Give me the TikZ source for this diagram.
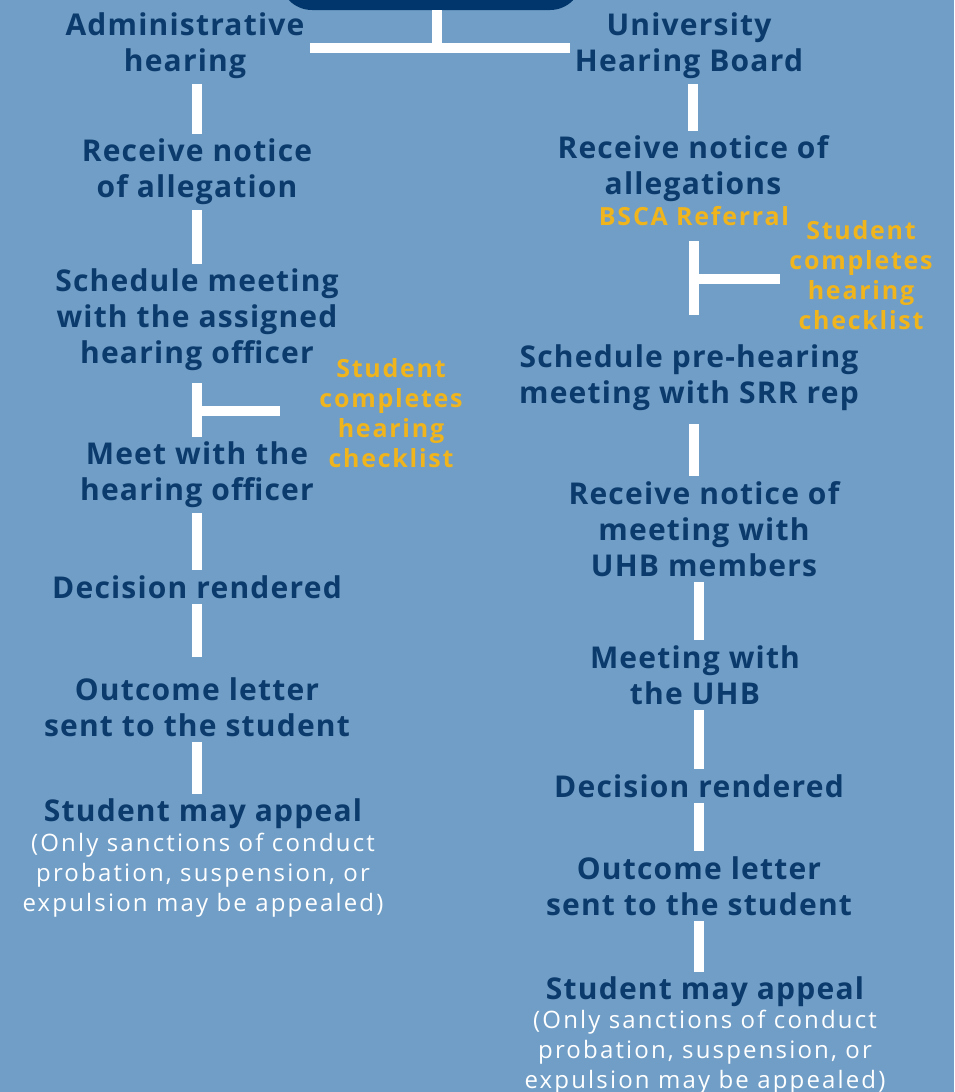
\documentclass[tikz,border=0pt]{standalone}
\usepackage{fontspec}
\setmainfont{Lato}
\newfontfamily\wideface[LetterSpace=4]{Open Sans}
\newfontfamily\noteface[LetterSpace=7]{Open Sans}
\newfontfamily\fineface[LetterSpace=9]{Open Sans}
\definecolor{bgblue}{HTML}{709EC6}
\definecolor{navy}{HTML}{0B3A6C}
\definecolor{topnavy}{HTML}{00366B}
\definecolor{gold}{HTML}{F0B41C}
\begin{document}
\begin{tikzpicture}[x=1pt, y=-1pt,
    stage/.style={text=navy, font=\wideface\bfseries\fontsize{30}{36}\selectfont, align=center, inner sep=5pt},
    note/.style={text=gold, font=\noteface\bfseries\fontsize{25}{30}\selectfont, align=center, inner sep=4pt},
    fine/.style={text=white, font=\fineface\fontsize{24}{30}\selectfont, align=center, inner sep=0pt},
    conn/.style={white, line width=10pt}]
    \clip (0, 0) rectangle (954, 1092);
    \fill[bgblue] (0, 0) rectangle (954, 1092);
    \node[fill=topnavy, rounded corners=32pt, minimum width=302pt, minimum height=70pt] (top) at (431, -25) {};
    \coordinate (tj) at (437, 48);

    \node[stage] (adm) at (185, 46) {Administrative\\hearing};
    \node[stage] (rcvL) at (197, 172) {Receive notice\\of allegation};
    \node[stage] (schL) at (197, 320) {Schedule meeting\\with the assigned\\hearing officer};
    \node[stage] (meetL) at (197, 475) {Meet with the\\hearing officer};
    \node[stage] (decL) at (197, 587) {Decision rendered};
    \node[stage] (outL) at (197, 707) {Outcome letter\\sent to the student};
    \node[stage] (appL) at (203, 814) {Student may appeal};
    \node[fine] (appLn) at (203, 875) {(Only sanctions of conduct\\probation, suspension, or\\expulsion may be appealed)};
    \node[note] (chkL) at (391, 413) {Student\\completes\\hearing\\checklist};

    \node[stage] (uhb) at (689, 46) {University\\Hearing Board};
    \node[stage] (rcvR) at (693, 169) {Receive notice of\\allegations};
    \node[note] (bsca) at (694, 216) {BSCA Referral};
    \node[note] (chkR) at (861, 275) {Student\\completes\\hearing\\checklist};
    \node[stage] (schR) at (689, 378) {Schedule pre-hearing\\meeting with SRR rep};
    \node[stage] (mtgR) at (704, 529) {Receive notice of\\meeting with\\UHB members};
    \node[stage] (meetR) at (695, 675) {Meeting with\\the UHB};
    \node[stage] (decR) at (699, 786) {Decision rendered};
    \node[stage] (outR) at (699, 886) {Outcome letter\\sent to the student};
    \node[stage] (appR) at (705, 992) {Student may appeal};
    \node[fine] (appRn) at (705, 1052) {(Only sanctions of conduct\\probation, suspension, or\\expulsion may be appealed)};

    \draw[conn] (top.south -| tj) -- (tj);
    \draw[conn] (tj -| adm.east) -- (tj -| uhb.west);

    \draw[conn] (adm.south -| rcvL) -- (rcvL.north);
    \draw[conn] (rcvL.south) -- (schL.north);
    \draw[conn, shorten <=7pt] (schL.south) -- (meetL.north) coordinate[pos=0.57] (jL);
    \draw[conn] (jL) -- (jL -| chkL.west) [shorten >=35pt];
    \draw[conn] (meetL.south) -- (decL.north);
    \draw[conn, shorten >=15pt] (decL.south) -- (outL.north);
    \draw[conn] (outL.south) -- (outL.south |- appL.north);

    \draw[conn] (uhb.south -| rcvR) -- (rcvR.north);
    \draw[conn, shorten <=11pt, shorten >=25pt] (bsca.south) -- (bsca.south |- schR.north) coordinate[pos=0.45] (jR);
    \draw[conn] (jR) -- (jR -| chkR.west) [shorten >=5pt];
    \draw[conn, shorten <=8pt] (schR.south -| bsca) -- (bsca |- mtgR.north);
    \draw[conn] (mtgR.south -| decR) -- (decR |- meetR.north);
    \draw[conn] (meetR.south -| decR) -- (decR.north);
    \draw[conn] (decR.south) -- (outR.north -| decR);
    \draw[conn] (outR.south -| decR) -- (decR |- appR.north);
\end{tikzpicture}
\end{document}
